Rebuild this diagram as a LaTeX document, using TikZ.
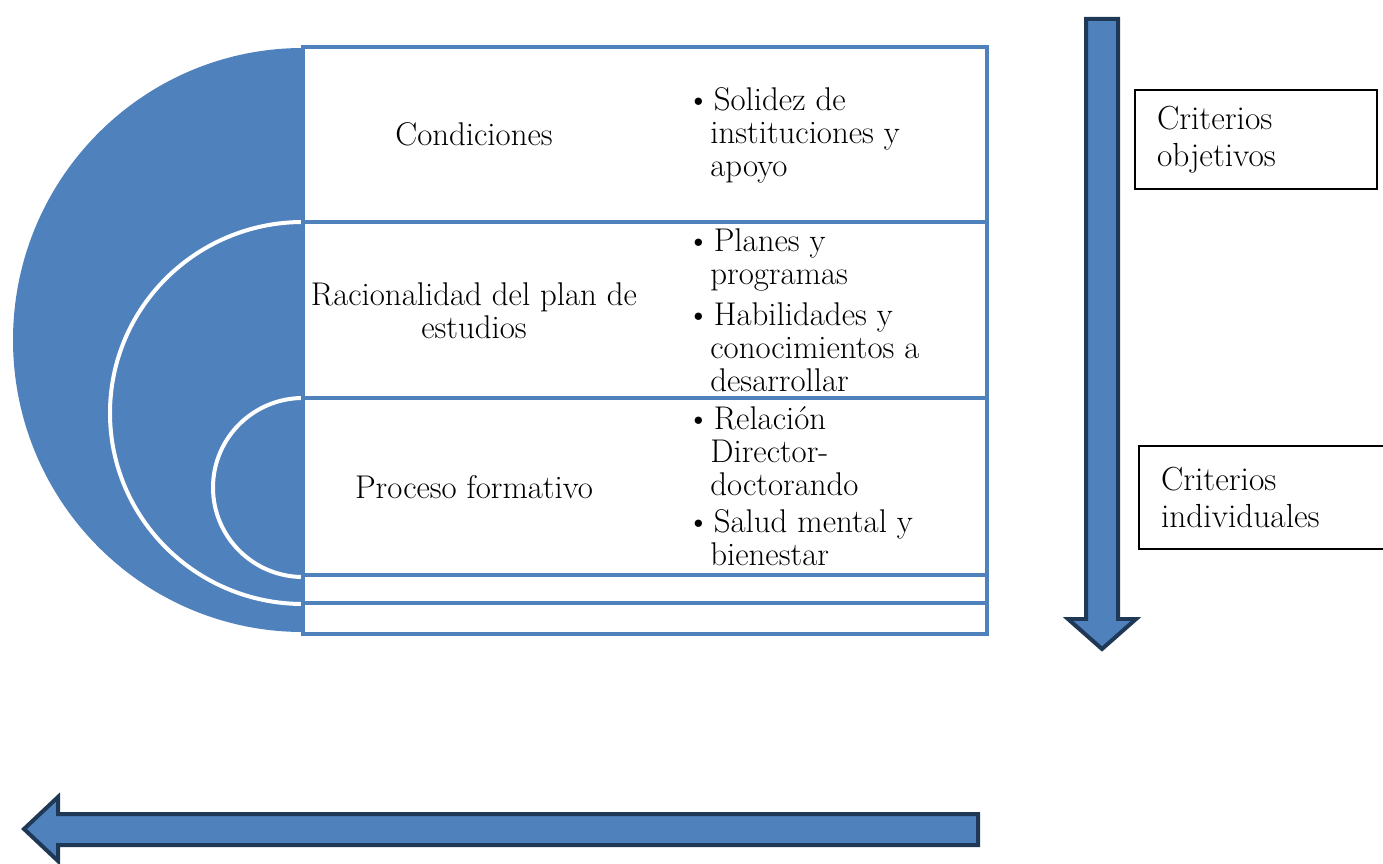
\documentclass[tikz,border=0pt]{standalone}
\usetikzlibrary{positioning}
\definecolor{azul}{HTML}{4F81BD}
\definecolor{marino}{HTML}{1F3855}
\newcommand{\bul}{\makebox[0pt][r]{\textbullet}\hspace{2pt}}

\begin{document}
\begin{tikzpicture}[x=0.02cm,y=-0.02cm,font=\fontsize{18.7}{18.8}\selectfont,
  tabla/.style={draw=azul,line width=0.08cm},
  arco/.style={draw=white,line width=0.08cm},
  item/.style={anchor=west,align=left,inner sep=0pt},
  rowlabel/.style={align=center,inner sep=0pt},
  critbox/.style={draw=black,line width=0.04cm,anchor=north west,align=left,
    inner xsep=0.44cm,font=\fontsize{19}{21}\selectfont},
  flecha/.style={fill=azul,draw=marino,line width=0.08cm}]
\useasboundingbox (0,0) rectangle (1383,864);

% semicircles on the left
\fill[azul] (303,48) arc[start angle=-90,end angle=-270,x radius=290,y radius=292] -- cycle;
\draw[arco] (303,222) arc[start angle=-90,end angle=-270,x radius=193,y radius=191];
\draw[arco] (303,398) arc[start angle=-90,end angle=-270,x radius=90,y radius=89.5];

% table
\filldraw[tabla,fill=white] (303,47) rectangle (987,634);
\foreach \y in {222,398,575,603} {
  \draw[tabla] (303,\y) -- (987,\y);
}

\node[rowlabel] (cond) at (474,134) {Condiciones};
\node[rowlabel] (racio) at (474,311) {Racionalidad del plan de\\estudios};
\node[rowlabel] (proc) at (474,487) {Proceso formativo};

\node[item] (solidez) at (710,135) {\bul Solidez de\\instituciones y\\apoyo};
\node[item] (planes) at (710,260) {\bul Planes y\\programas};
\node[item] (habil) at (710,347) {\bul Habilidades y\\conocimientos a\\desarrollar};
\node[item] (relac) at (710,451) {\bul Relación\\Director-\\doctorando};
\node[item] (salud) at (710,538) {\bul Salud mental y\\bienestar};

% arrows
\filldraw[flecha] (1086,19) -- (1118,19) -- (1118,619) -- (1136,619) -- (1102,649)
  -- (1068,619) -- (1086,619) -- cycle;
\filldraw[flecha] (978,814) -- (978,845) -- (58,845) -- (58,861) -- (24,829)
  -- (58,797) -- (58,814) -- cycle;

% criteria boxes
\node[critbox,minimum width=4.84cm,minimum height=1.98cm,text width=3.96cm]
  (objet) at (1134,89) {Criterios\\objetivos};
\node[critbox,minimum width=5.2cm,minimum height=2.06cm,text width=4.32cm]
  (indiv) at (1138,445) {Criterios\\individuales};
\end{tikzpicture}
\end{document}
